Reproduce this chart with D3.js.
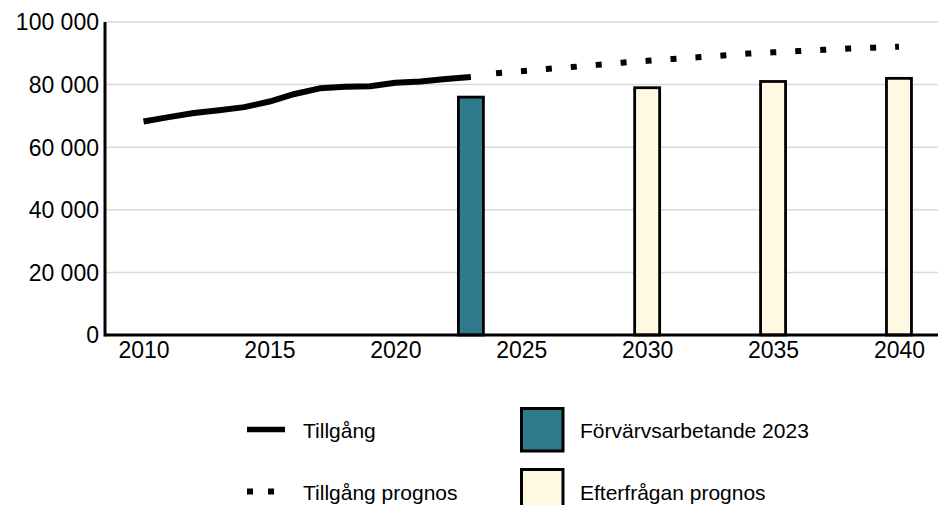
<!DOCTYPE html>
<html><head><meta charset="utf-8">
<script src="https://cdn.jsdelivr.net/npm/d3@7/dist/d3.min.js"></script>
<style>body{margin:0;background:#fff}svg{display:block;font-family:Arial,"Liberation Sans",sans-serif}</style>
</head><body><svg id="c" width="938" height="505"></svg>
<script>
const supplyYears = [2010,2011,2012,2013,2014,2015,2016,2017,2018,2019,2020,2021,2022,2023];
const supplyValues = [68200,69600,70900,71800,72800,74600,77000,78800,79300,79500,80600,81000,81800,82400];
const forecastYears = [2024,2025,2026,2027,2028,2029,2030,2031,2032,2033,2034,2035,2036,2037,2038,2039,2040];
const forecastValues = [83600,84300,85000,85600,86300,87000,87600,88200,88700,89300,89900,90300,90700,91100,91500,91800,92100];
const employedYears = [2023];
const employedValues = [76000];
const demandYears = [2030,2035,2040];
const demandValues = [79000,81000,82000];
const xTicks = [2010,2015,2020,2025,2030,2035,2040];
const yTicks = [0,20000,40000,60000,80000,100000];
const legendLabels = ["Tillgång","Tillgång prognos","Förvärvsarbetande 2023","Efterfrågan prognos"];

const svg = d3.select("#c");
const x = d3.scaleLinear().domain([2008.47, 2041.55]).range([105, 938]);
const y = d3.scaleLinear().domain([0, 100000]).range([335, 22]);
const fmt = v => d3.format(",")(v).replace(/,/g, " ");

// gridlines
svg.append("g").selectAll("line").data(yTicks.filter(d => d > 0)).join("line")
  .attr("x1", x.range()[0]).attr("x2", x.range()[1])
  .attr("y1", d => y(d)).attr("y2", d => y(d))
  .attr("stroke", "#d9d9d9").attr("stroke-width", 1.5);

// y axis
const ya = svg.append("g").attr("transform", "translate(105,0)")
  .call(d3.axisLeft(y).tickValues(yTicks).tickFormat(fmt).tickSize(0).tickPadding(6));
ya.select(".domain").remove();
ya.selectAll("text").attr("font-size", 23).attr("fill", "#000").attr("font-family", "Arial, 'Liberation Sans', sans-serif").attr("dy", "0.34em");

// x axis
const xa = svg.append("g").attr("transform", "translate(0,335)")
  .call(d3.axisBottom(x).tickValues(xTicks).tickFormat(d3.format("d")).tickSize(0).tickPadding(6));
xa.select(".domain").remove();
xa.selectAll("text").attr("font-size", 23).attr("fill", "#000").attr("font-family", "Arial, 'Liberation Sans', sans-serif").attr("dy", "0.74em");

// bars
const bw = 25;
svg.append("g").selectAll("rect").data(employedYears.map((d,i)=>({yr:d,v:employedValues[i]}))).join("rect")
  .attr("x", d => x(d.yr) - bw/2).attr("width", bw)
  .attr("y", d => y(d.v)).attr("height", d => y(0) - y(d.v))
  .attr("fill", "#2f7a8c").attr("stroke", "#000").attr("stroke-width", 2.8);
svg.append("g").selectAll("rect").data(demandYears.map((d,i)=>({yr:d,v:demandValues[i]}))).join("rect")
  .attr("x", d => x(d.yr) - bw/2).attr("width", bw)
  .attr("y", d => y(d.v)).attr("height", d => y(0) - y(d.v))
  .attr("fill", "#fff8e3").attr("stroke", "#000").attr("stroke-width", 2.8);

// axis lines
svg.append("line").attr("x1", 105).attr("x2", 105).attr("y1", y(100000)).attr("y2", y(0)+1.5)
  .attr("stroke", "#000").attr("stroke-width", 3);
svg.append("line").attr("x1", 105).attr("x2", 938).attr("y1", y(0)).attr("y2", y(0))
  .attr("stroke", "#000").attr("stroke-width", 3);

// lines
const line = d3.line().x(d => x(d[0])).y(d => y(d[1]));
svg.append("path").datum(supplyYears.map((d,i)=>[d,supplyValues[i]]))
  .attr("d", line).attr("fill", "none").attr("stroke", "#000").attr("stroke-width", 6)
  .attr("stroke-linejoin", "round");
svg.append("path").datum(forecastYears.map((d,i)=>[d,forecastValues[i]]))
  .attr("d", line).attr("fill", "none").attr("stroke", "#000").attr("stroke-width", 6)
  .attr("stroke-dasharray", "6,19");

// legend
const lg = svg.append("g").attr("font-size", 21).attr("fill", "#000");
lg.append("line").attr("x1", 247).attr("x2", 285).attr("y1", 429.5).attr("y2", 429.5)
  .attr("stroke", "#000").attr("stroke-width", 5.5);
lg.append("line").attr("x1", 247).attr("x2", 285).attr("y1", 491.5).attr("y2", 491.5)
  .attr("stroke", "#000").attr("stroke-width", 6).attr("stroke-dasharray", "6,15");
lg.append("rect").attr("x", 521.5).attr("y", 408.5).attr("width", 41.5).attr("height", 42.5)
  .attr("fill", "#2f7a8c").attr("stroke", "#000").attr("stroke-width", 3);
lg.append("rect").attr("x", 521.5).attr("y", 469.5).attr("width", 41.5).attr("height", 42.5)
  .attr("fill", "#fff8e3").attr("stroke", "#000").attr("stroke-width", 3);
lg.append("text").attr("x", 303).attr("y", 438).text(legendLabels[0]);
lg.append("text").attr("x", 303).attr("y", 500).text(legendLabels[1]);
lg.append("text").attr("x", 580).attr("y", 438).text(legendLabels[2]);
lg.append("text").attr("x", 580).attr("y", 500).text(legendLabels[3]);
</script></body></html>
